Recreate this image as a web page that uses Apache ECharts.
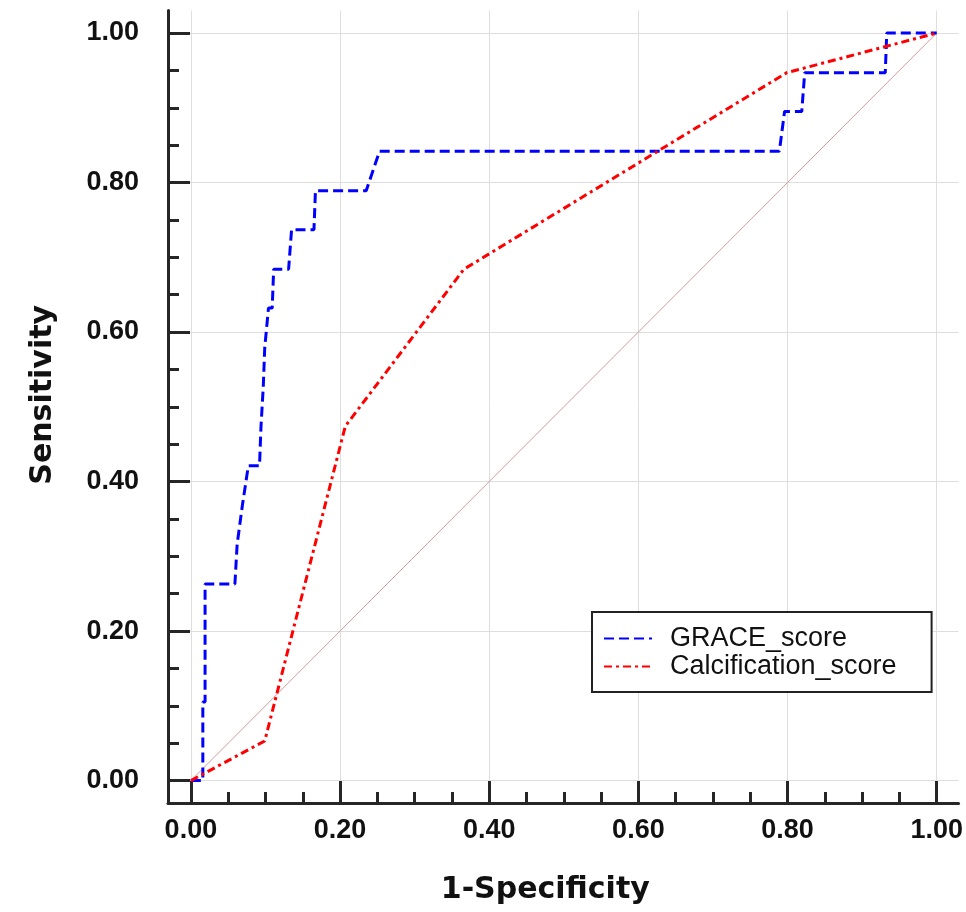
<!DOCTYPE html>
<html>
<head>
<meta charset="utf-8">
<script src="https://cdn.jsdelivr.net/npm/echarts@6/dist/echarts.min.js"></script>
<style>
  html, body { margin: 0; padding: 0; background: #fff; }
  #chart { width: 966px; height: 912px; }
</style>
</head>
<body>
<div id="chart"></div>
<script>
// ROC points as [1-specificity, sensitivity]
const graceScore = [
  [0, 0], [0.016, 0], [0.016, 0.105], [0.019, 0.105], [0.019, 0.263],
  [0.059, 0.263], [0.062, 0.316], [0.069, 0.368], [0.077, 0.421],
  [0.092, 0.421], [0.094, 0.474], [0.097, 0.526], [0.099, 0.579],
  [0.104, 0.632], [0.109, 0.632], [0.111, 0.684], [0.131, 0.684],
  [0.135, 0.737], [0.165, 0.737], [0.167, 0.789], [0.235, 0.789],
  [0.253, 0.842], [0.789, 0.842], [0.796, 0.895], [0.819, 0.895],
  [0.823, 0.947], [0.931, 0.947], [0.933, 1.0], [1.0, 1.0]
]
const calcificationScore = [
  [0, 0], [0.099, 0.053], [0.207, 0.474], [0.366, 0.684], [0.799, 0.947], [1.0, 1.0]
]
const referenceLine = [[0, 0], [1, 1]]
const seriesNames = ['GRACE_score', 'Calcification_score']

const majorTicks = [0, 0.2, 0.4, 0.6, 0.8, 1.0]
const minorTicks = [0.05, 0.1, 0.15, 0.25, 0.3, 0.35, 0.45, 0.5, 0.55, 0.65, 0.7, 0.75, 0.85, 0.9, 0.95]

const axisColor = '#262626'
const labelFont = 'Liberation Sans, Arial, sans-serif'
const titleFont = 'DejaVu Sans, sans-serif'

function tickLabels(margin) {
  return {
    customValues: majorTicks,
    formatter: v => v.toFixed(2),
    fontSize: 27, fontWeight: 'bold', fontFamily: labelFont, color: '#111',
    margin: margin
  }
}

function mainAxis(extra) {
  return Object.assign({
    type: 'value',
    axisLine: { show: true, onZero: false, lineStyle: { color: axisColor, width: 3 } },
    axisTick: {
      show: true, inside: true, length: 22, customValues: majorTicks,
      lineStyle: { color: axisColor, width: 3 }
    },
    splitLine: { show: true, lineStyle: { color: '#dedede', width: 1 } },
    nameLocation: 'middle'
  }, extra)
}

function minorAxis(extra) {
  return Object.assign({
    type: 'value',
    axisLine: { show: false, onZero: false },
    axisTick: {
      show: true, inside: true, length: 11, customValues: minorTicks,
      lineStyle: { color: axisColor, width: 3 }
    },
    axisLabel: { show: false },
    splitLine: { show: false }
  }, extra)
}

const xMin = -0.0307, xMax = 1.0293
const yMin = -0.03, yMax = 1.03

const chart = echarts.init(document.getElementById('chart'))
chart.setOption({
  animation: false,
  backgroundColor: '#fff',
  grid: { left: 168, top: 10.6, width: 795, height: 792.4 },
  xAxis: [
    mainAxis({
      min: xMin, max: xMax, position: 'bottom',
      name: '1-Specificity', nameGap: 72,
      nameTextStyle: {
        fontSize: 30, fontWeight: 'bold', fontFamily: titleFont, color: '#111',
        padding: [0, 36, 0, 0]
      },
      axisLabel: tickLabels(14)
    }),
    minorAxis({ min: xMin, max: xMax, position: 'bottom' })
  ],
  yAxis: [
    mainAxis({
      min: yMin, max: yMax, position: 'left',
      name: 'Sensitivity', nameGap: 110,
      nameTextStyle: {
        fontSize: 30, fontWeight: 'bold', fontFamily: titleFont, color: '#111',
        padding: [0, 0, 0, 24]
      },
      axisLabel: tickLabels(29)
    }),
    minorAxis({ min: yMin, max: yMax, position: 'left' })
  ],
  legend: {
    orient: 'vertical',
    left: 592, top: 612,
    data: seriesNames,
    itemWidth: 48, itemHeight: 14, itemGap: 1,
    padding: [13, 35, 12, 11],
    backgroundColor: '#fff',
    borderColor: '#222', borderWidth: 2,
    itemStyle: { color: 'rgba(0,0,0,0)', borderWidth: 0, opacity: 0 },
    textStyle: { fontSize: 27, fontFamily: labelFont, color: '#111', padding: [0, 0, 0, 13] }
  },
  series: [
    {
      type: 'line', data: referenceLine, symbol: 'none', silent: true,
      lineStyle: { color: '#d49c9c', width: 1 }, z: 1
    },
    {
      name: seriesNames[0], type: 'line', data: graceScore, symbol: 'none',
      itemStyle: { color: '#0000ff' },
      lineStyle: { color: '#0000ff', width: 3, type: [10, 5] }, z: 2
    },
    {
      name: seriesNames[1], type: 'line', data: calcificationScore, symbol: 'none',
      itemStyle: { color: '#ff0000' },
      lineStyle: { color: '#ff0000', width: 3, type: [8, 4, 3, 4] }, z: 3
    }
  ]
})
</script>
</body>
</html>
